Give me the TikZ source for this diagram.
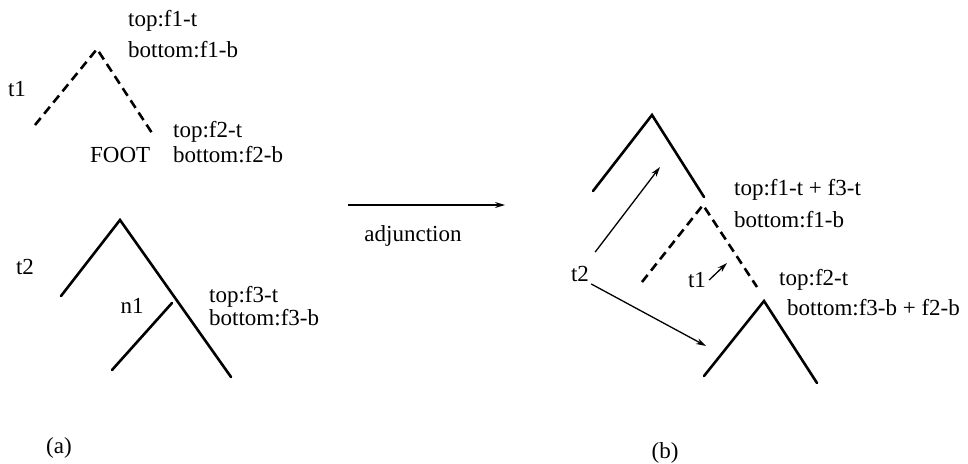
\documentclass[tikz,border=0pt]{standalone}
\usepackage{fontspec}
\setmainfont{Liberation Serif}
\usetikzlibrary{arrows.meta}
\begin{document}
\begin{tikzpicture}[x=1pt,y=-1pt,
  lbl/.style={inner sep=0pt,font=\fontsize{23}{27}\selectfont},
  branch/.style={line width=2.6pt,line cap=round},
  dashbranch/.style={branch,line cap=butt,dash pattern=on 9pt off 5.5pt},
  link/.style={line width=1.3pt,-{Stealth[length=10pt,width=6pt]}},
]
\useasboundingbox[fill=white] (0,0) rectangle (968,463);

% ---- (a) auxiliary tree t1 (dashed) ----
\coordinate (a1top) at (97,49);
\coordinate (a1l) at (35,125);
\coordinate (a1r) at (152,133);
\draw[dashbranch] (a1l) -- (a1top) -- (a1r);
\node[lbl] (t1a) at (17,89) {t1};
\node[lbl,anchor=west] (f1t) at (128,21) {top:f1-t};
\node[lbl,anchor=west] (f1b) at (128,50) {bottom:f1-b};
\node[lbl,anchor=west] (f2t) at (173,132) {top:f2-t};
\node[lbl,anchor=west] (f2b) at (173,155) {bottom:f2-b};
\node[lbl,anchor=west] (foot) at (90,155) {FOOT};

% ---- (a) initial tree t2 ----
\coordinate (a2top) at (120,220);
\coordinate (a2l) at (61,296);
\coordinate (n1pt) at (172,303);
\coordinate (a2r) at (231,377);
\coordinate (n1l) at (112,370);
\draw[branch] (a2l) -- (a2top) -- (a2r);
\draw[branch] (n1pt) -- (n1l);
\node[lbl] (t2a) at (25,267) {t2};
\node[lbl] (n1) at (132,306) {n1};
\node[lbl,anchor=west] (f3t) at (209,297) {top:f3-t};
\node[lbl,anchor=west] (f3b) at (209,318) {bottom:f3-b};
\node[lbl] (capa) at (59,448) {(a)};

% ---- adjunction arrow ----
\coordinate (adjs) at (348,205);
\coordinate (adje) at (505,205);
\draw[link] (adjs) -- (adje);
\node[lbl] (adj) at (413,236) {adjunction};

% ---- (b) derived tree ----
\coordinate (bt) at (652,115);
\coordinate (bl) at (593,191);
\coordinate (br) at (704,197);
\draw[branch] (bl) -- (bt) -- (br);

\coordinate (bdt) at (703,205);
\coordinate (bdl) at (642,282);
\coordinate (bdr) at (757,287);
\draw[dashbranch] (bdl) -- (bdt) -- (bdr);

\coordinate (bbt) at (764,301);
\coordinate (bbl) at (704,376);
\coordinate (bbr) at (817,383);
\draw[branch] (bbl) -- (bbt) -- (bbr);

\node[lbl] (t2b) at (580,274) {t2};
\node[lbl] (t1b) at (697,280) {t1};
\node[lbl,anchor=west] (f13t) at (734,190) {top:f1-t + f3-t};
\node[lbl,anchor=west] (f1bb) at (734,220) {bottom:f1-b};
\node[lbl,anchor=west] (f2tb) at (779,280) {top:f2-t};
\node[lbl,anchor=west] (f32b) at (787,308) {bottom:f3-b + f2-b};
\node[lbl] (capb) at (665,453) {(b)};

% arrows showing where the pieces of t2 and t1 end up
\coordinate (upend) at (660,167);
\coordinate (downend) at (706,346);
\coordinate (t1end) at (727,263);
\draw[link] (t2b.north east) ++(6,-14) coordinate (upstart) -- (upend);
\draw[link] (t2b.south east) ++(2,2) coordinate (downstart) -- (downend);
\draw[link] (t1b.east) ++(3,0) coordinate (t1start) -- (t1end);
\end{tikzpicture}
\end{document}
